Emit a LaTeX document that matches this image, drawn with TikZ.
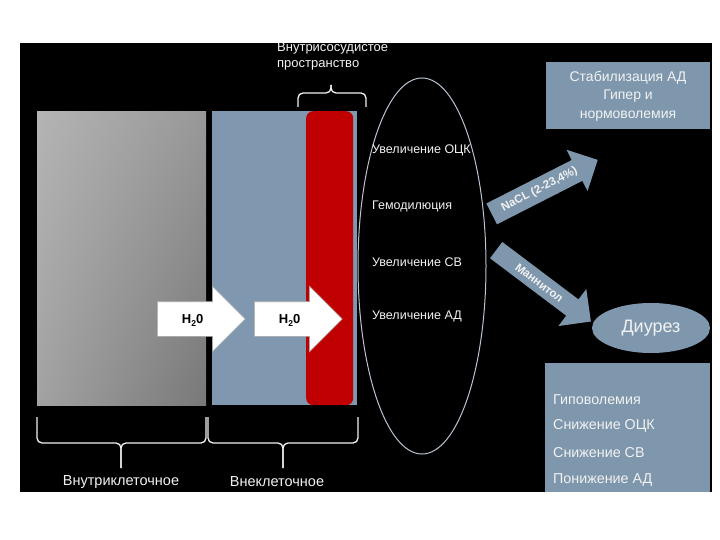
\documentclass[tikz,border=0pt]{standalone}
\usepackage{fontspec}
\setmainfont{Liberation Sans}
\usetikzlibrary{shapes.geometric,shapes.arrows,shadings}
\definecolor{bgblue}{HTML}{7F98B0}
\definecolor{boxblue}{HTML}{7E97AD}
\definecolor{bloodred}{HTML}{C00000}
\definecolor{ellline}{HTML}{BAC4D2}
\definecolor{txtwhite}{HTML}{F2F2F2}
\definecolor{gUL}{HTML}{B4B4B4}
\definecolor{gUR}{HTML}{989898}
\definecolor{gLL}{HTML}{A2A2A2}
\definecolor{gLR}{HTML}{787878}
\begin{document}
\begin{tikzpicture}[x=1pt,y=-1pt,
  lbl/.style={text=txtwhite, inner sep=0},
  ovaltxt/.style={lbl, anchor=west, font=\fontsize{12.5}{14}\selectfont},
  listtxt/.style={lbl, anchor=west, font=\fontsize{14.3}{16}\selectfont},
  bracestyle/.style={draw=txtwhite, line width=1.3, rounded corners=5},
  waterarrow/.style={single arrow, draw=gray!70, fill=white, line width=0.6,
    minimum height=88, single arrow head extend=15.5, text height=9, text depth=0,
    inner ysep=12.5, inner xsep=2, anchor=tail, text=black,
    font=\bfseries\fontsize{13}{15}\selectfont},
  bluearrow/.style={single arrow, fill=boxblue, text=txtwhite, anchor=tail,
    font=\bfseries\fontsize{11.5}{13}\selectfont, inner xsep=2}
]
\useasboundingbox (0,0) rectangle (720,540);
\fill[white] (0,0) rectangle (720,540);
\fill[black] (20,43) rectangle (712,492);

% compartments
\node[upper left=gUL, upper right=gUR, lower left=gLL, lower right=gLR,
      minimum width=169, minimum height=294, inner sep=0, anchor=north west] (intra) at (37,111) {};
\node[fill=bgblue, minimum width=145, minimum height=294, inner sep=0, anchor=north west] (extra) at (212,111) {};
\node[fill=bloodred, rounded corners=7, minimum width=47, minimum height=294, inner sep=0, anchor=north west] (vessel) at (306,111) {};

% water arrows
\node[waterarrow] (w1) at (157,319) {H\raisebox{-0.4ex}{\fontsize{8.5}{8.5}\selectfont 2}0};
\node[waterarrow] (w2) at (254,319) {H\raisebox{-0.4ex}{\fontsize{8.5}{8.5}\selectfont 2}0};

% braces
\draw[bracestyle] (298,107) -- (298,93) -- (331,93) -- (331,85);
\draw[bracestyle] (366,107) -- (366,93) -- (331,93) -- (331,85);
\draw[bracestyle] (37,417) -- (37,443) -- (121,443) -- (121,468);
\draw[bracestyle] (206,417) -- (206,443) -- (121,443) -- (121,468);
\draw[bracestyle] (208,417) -- (208,443) -- (283,443) -- (283,468);
\draw[bracestyle] (358,417) -- (358,443) -- (283,443) -- (283,468);

\node[lbl, anchor=west, font=\fontsize{13}{15}\selectfont] (vsp1) at (277,48) {Внутрисосудистое};
\node[lbl, anchor=west, font=\fontsize{13}{15}\selectfont] (vsp2) at (277,65) {пространство};
\node[lbl, font=\fontsize{14.5}{16}\selectfont] (lintra) at (121,482) {Внутриклеточное};
\node[lbl, font=\fontsize{14.5}{16}\selectfont] (lextra) at (277,482) {Внеклеточное};

% oval
\node[ellipse, draw=ellline, line width=1.0, minimum width=128, minimum height=376, inner sep=0] (oval) at (422,266) {};
\node[ovaltxt] (e1) at (372,150) {Увеличение ОЦК};
\node[ovaltxt] (e2) at (372,206) {Гемодилюция};
\node[ovaltxt] (e3) at (372,262) {Увеличение СВ};
\node[ovaltxt] (e4) at (372,316) {Увеличение АД};

% blue arrows
\node[bluearrow, rotate=27, minimum height=119, single arrow head extend=11.5,
      text height=8.5, text depth=2.5, inner ysep=6] (nacl) at (491.5,214) {NaCL (2-23,4\%)};
\node[bluearrow, rotate=-37, minimum height=118.6, single arrow head extend=13,
      text height=8.5, text depth=0, inner ysep=5.75] (mann) at (496,250) {Маннитол};

% right boxes
\node[fill=boxblue, minimum width=164, minimum height=67, inner sep=0, text=txtwhite, align=center,
      font=\fontsize{14}{18.5}\selectfont] (stab) at (628,96) {Стабилизация АД\\Гипер и\\нормоволемия};
\node[ellipse, fill=boxblue, minimum width=118, minimum height=50, inner sep=0, text=txtwhite,
      font=\fontsize{18}{20}\selectfont] (diur) at (651,328) {Диурез};
\node[fill=boxblue, minimum width=165, minimum height=129, inner sep=0, anchor=north west] (hypo) at (545,363) {};
\node[listtxt] (h1) at (553,400) {Гиповолемия};
\node[listtxt] (h2) at (553,426) {Снижение ОЦК};
\node[listtxt] (h3) at (553,453) {Снижение СВ};
\node[listtxt] (h4) at (553,480) {Понижение АД};
\end{tikzpicture}
\end{document}
